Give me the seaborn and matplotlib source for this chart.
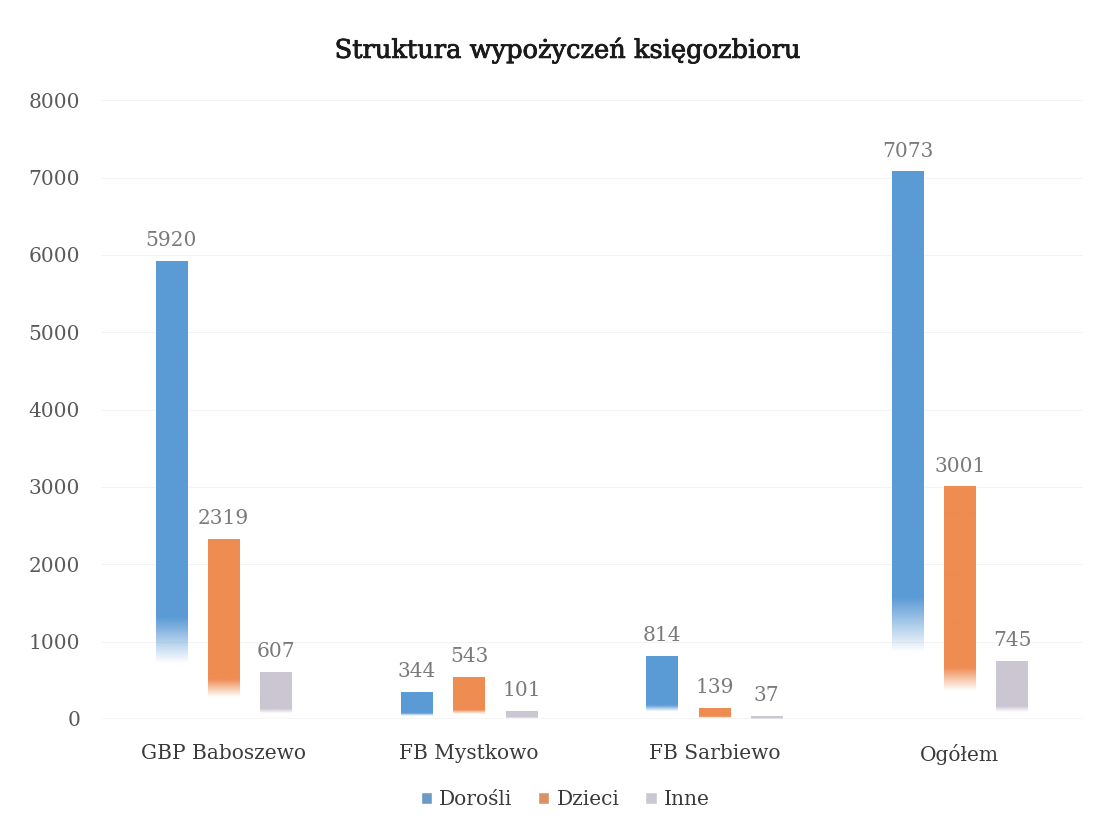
import numpy as np
import pandas as pd
import seaborn as sns
import matplotlib.pyplot as plt
import matplotlib.patheffects as pe
from matplotlib.colors import to_rgb

# chart data
categories = ['GBP Baboszewo', 'FB Mystkowo', 'FB Sarbiewo', 'Ogółem']
series = ['Dorośli', 'Dzieci', 'Inne']
dorosli = [5920, 344, 814, 7073]
dzieci = [2319, 543, 139, 3001]
inne = [607, 101, 37, 745]
colors = ['#5b9bd5', '#ee8c52', '#cbc7d2']
title = 'Struktura wypożyczeń księgozbioru'

df = pd.DataFrame({
    'kategoria': categories * 3,
    'seria': [s for s in series for _ in categories],
    'wartosc': dorosli + dzieci + inne,
})

sns.set_theme(style='white')
plt.rcParams['font.family'] = ['DejaVu Serif', 'DejaVu Sans']

fig = plt.figure(figsize=(10.93, 8.35), dpi=100)
ax = fig.add_axes([0.0924, 0.139, 0.898, 0.741])

sns.barplot(data=df, x='kategoria', y='wartosc', hue='seria', order=categories,
            hue_order=series, palette=colors, width=0.64, gap=0.4,
            legend=True, ax=ax)

# faint gridlines
for v in range(1000, 9000, 1000):
    ax.axhline(v, color='#f3f3f3', lw=0.8, zorder=0)
ax.axhline(0, color='#d6d6d6', lw=1.0, zorder=1)

# bar labels
for cont in ax.containers:
    ax.bar_label(cont, fmt='%d', padding=8, fontsize=14.5, color='#7a7a7a')

# replace solid bars with a vertical fade to white at the bottom
for cont, col in zip(ax.containers, colors):
    rgb = to_rgb(col)
    for p in cont.patches:
        x, w, h = p.get_x(), p.get_width(), p.get_height()
        n = 200
        frac = np.linspace(0, 1, n)
        alpha = np.clip((frac - 0.12) / 0.10, 0, 1)
        img = np.zeros((n, 1, 4))
        img[:, 0, :3] = rgb
        img[:, 0, 3] = alpha
        ax.imshow(img, extent=[x, x + w, 0, h], origin='lower',
                  aspect='auto', zorder=2, interpolation='bilinear')
        p.set_visible(False)

ax.set_xlim(-0.5, 3.5)
ax.set_ylim(0, 8000)
ax.set_yticks(range(0, 9000, 1000))
ax.set_xlabel('')
ax.set_ylabel('')
sns.despine(ax=ax, left=True, bottom=True)
ax.tick_params(axis='y', labelsize=14.5, labelcolor='#5a5a5a', length=0, pad=15)
ax.tick_params(axis='x', labelsize=14.5, labelcolor='#3a3a3a', length=0, pad=18)

leg = ax.legend(loc='center', bbox_to_anchor=((565 / 1093 - 0.0924) / 0.898, -0.131),
                ncol=3, frameon=False, fontsize=14.5, handlelength=0.55,
                handleheight=0.55, handletextpad=0.35, columnspacing=1.3)
for t in leg.get_texts():
    t.set_color('#3a3a3a')

t = fig.text(0.52, 0.94, title, ha='center', va='center', fontsize=18.5,
             color='#1a1a1a')
t.set_path_effects([pe.withStroke(linewidth=0.6, foreground='#1a1a1a')])

fig.savefig('out.png', dpi=100)
